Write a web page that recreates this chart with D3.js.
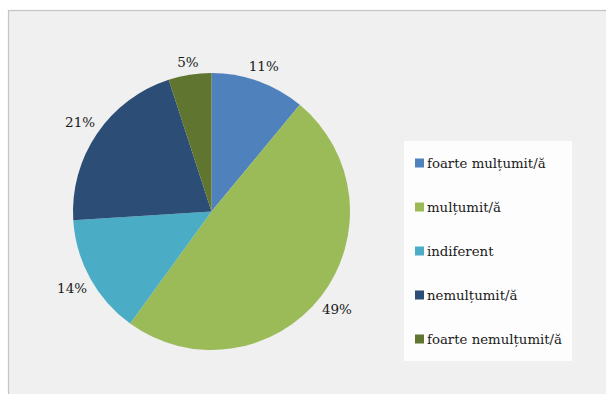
<!DOCTYPE html>
<html>
<head>
<meta charset="utf-8">
<script src="https://cdn.jsdelivr.net/npm/d3@7"></script>
<style>
  html, body { margin: 0; padding: 0; background: #ffffff; }
  svg { display: block; }
</style>
</head>
<body>
<svg id="chart" width="606" height="394"></svg>
<script>
const categories = ["foarte mulțumit/ă", "mulțumit/ă", "indiferent", "nemulțumit/ă", "foarte nemulțumit/ă"];
const values = [11, 49, 14, 21, 5];
const labels = ["11%", "49%", "14%", "21%", "5%"];
const colors = ["#4f81bd", "#9bbb59", "#4bacc6", "#2c4d75", "#5f7530"];

const W = 606, H = 394;
const svg = d3.select("#chart");
const font = "'DejaVu Serif', serif";

// chart area background and border
svg.append("rect").attr("x", 8.5).attr("y", 10.5).attr("width", W).attr("height", H)
  .attr("fill", "#eff0ef").attr("stroke", "#c4c4c4").attr("stroke-width", 1.2);

const cx = 211.5, cy = 211.5, r = 138.5;
const g = svg.append("g").attr("transform", `translate(${cx},${cy})`);

const data = categories.map((c, i) => ({ cat: c, value: values[i], label: labels[i], color: colors[i] }));
const pie = d3.pie().value(d => d.value).sort(null);
const arc = d3.arc().innerRadius(0).outerRadius(r);
const arcs = pie(data);

g.selectAll("path.slice").data(arcs).join("path")
  .attr("class", "slice")
  .attr("d", arc)
  .attr("fill", d => d.data.color);

// labels outside end
const gap = 4;
arcs.forEach(a => {
  const mid = (a.startAngle + a.endAngle) / 2;
  const sx = Math.sin(mid), sy = -Math.cos(mid);
  const t = g.append("text")
    .attr("font-family", font).attr("font-size", 13.5)
    .attr("fill", "#1a1a1a")
    .attr("text-anchor", "middle").attr("dominant-baseline", "central")
    .text(a.data.label);
  const bb = t.node().getBBox();
  const hw = bb.width / 2, hh = 7;
  const ext = hw * Math.abs(sx) + hh * Math.abs(sy);
  const d = r + gap + ext;
  t.attr("x", sx * d).attr("y", sy * d);
});

// legend
const lg = svg.append("g");
lg.append("rect").attr("x", 404).attr("y", 141).attr("width", 168).attr("height", 220)
  .attr("fill", "#fdfdfd");
const ly = d3.scalePoint().domain(categories).range([163, 339]);
categories.forEach((c, i) => {
  const y = ly(c);
  lg.append("rect").attr("x", 415).attr("y", y - 4.5).attr("width", 9).attr("height", 9)
    .attr("fill", colors[i]);
  lg.append("text").attr("x", 427).attr("y", y)
    .attr("font-family", font).attr("font-size", 13.3)
    .attr("fill", "#1a1a1a")
    .attr("dominant-baseline", "central")
    .text(c);
});
</script>
</body>
</html>
